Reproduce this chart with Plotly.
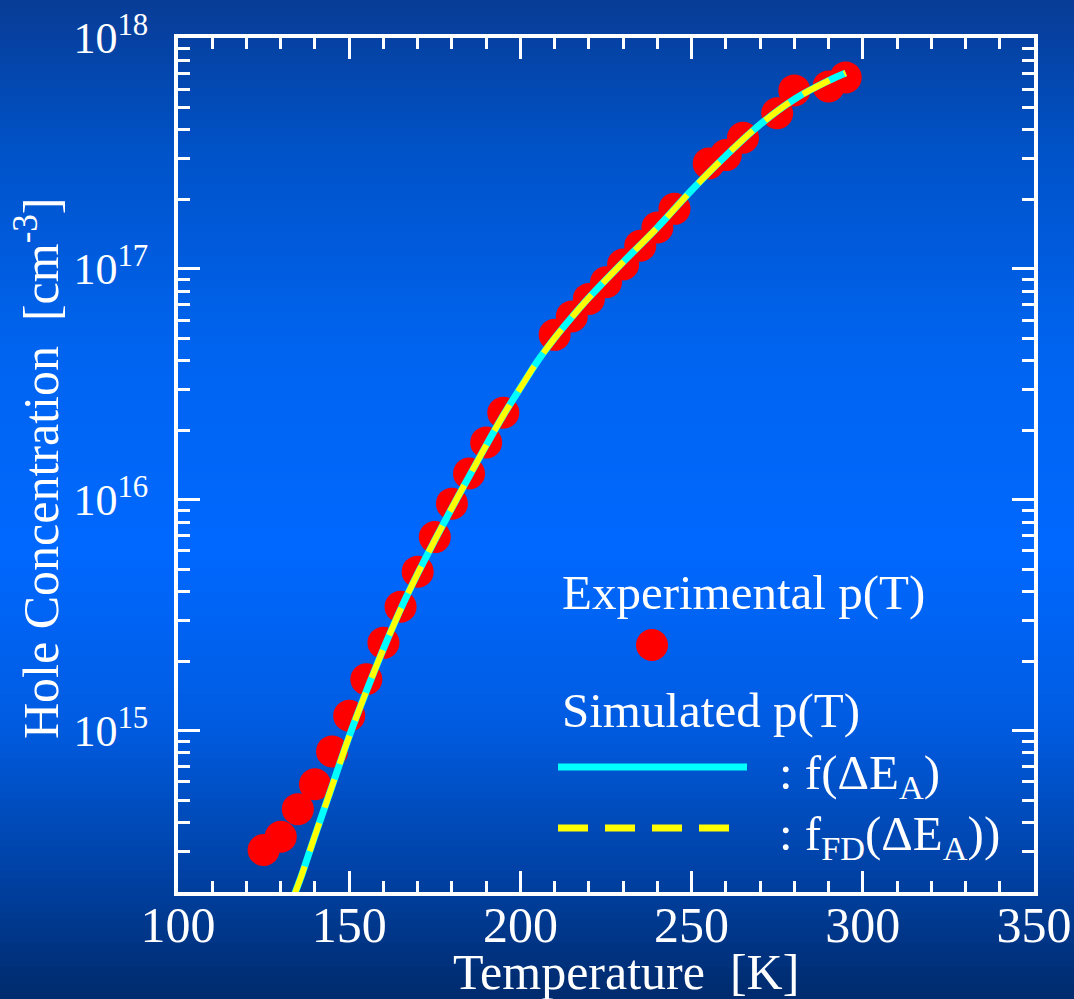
import plotly.graph_objects as go

# ---------------- data ----------------
T_exp = [125, 130, 135, 140, 145, 150, 155, 160, 165, 170, 175, 180, 185, 190, 195,
         210, 215, 220, 225, 230, 235, 240, 245, 255, 260, 265, 275, 280, 290, 295]
p_exp = [3.04e14, 3.47e14, 4.57e14, 5.86e14, 8.13e14, 1.16e15, 1.67e15, 2.40e15,
         3.44e15, 4.88e15, 6.89e15, 9.62e15, 1.30e16, 1.77e16, 2.38e16,
         5.18e16, 6.22e16, 7.41e16, 8.75e16, 1.045e17, 1.26e17, 1.51e17, 1.82e17,
         2.86e17, 3.11e17, 3.70e17, 4.72e17, 5.93e17, 6.17e17, 6.75e17]

T_sim = [134, 136, 140, 145, 150, 155, 160, 165, 170, 175, 180, 185, 190, 195,
         200, 205, 210, 215, 220, 230, 240, 250, 260, 270, 280, 290, 295]
p_sim_f = [1.95e14, 2.34e14, 3.51e14, 5.75e14, 9.44e14, 1.48e15, 2.26e15, 3.35e15,
           4.79e15, 6.68e15, 9.23e15, 1.26e16, 1.72e16, 2.32e16, 3.05e16, 3.98e16,
           5.01e16, 6.17e16, 7.50e16, 1.07e17, 1.51e17, 2.19e17, 3.09e17, 4.22e17,
           5.43e17, 6.53e17, 7.05e17]
p_sim_fd = [1.95e14, 2.34e14, 3.51e14, 5.75e14, 9.44e14, 1.48e15, 2.26e15, 3.35e15,
            4.79e15, 6.68e15, 9.23e15, 1.26e16, 1.72e16, 2.32e16, 3.05e16, 3.98e16,
            5.01e16, 6.17e16, 7.50e16, 1.07e17, 1.51e17, 2.19e17, 3.09e17, 4.22e17,
            5.43e17, 6.53e17, 7.05e17]

x_ticks = [100, 150, 200, 250, 300, 350]
y_ticks = [1e15, 1e16, 1e17, 1e18]
y_ticktext = ["10<sup>15</sup>", "10<sup>16</sup>", "10<sup>17</sup>", "10<sup>18</sup>"]
y_minor = [m * 10 ** e for e in range(14, 18) for m in range(2, 10)]

legend_exp_title = "Experimental p(T)"
legend_sim_title = "Simulated p(T)"
legend_f = ": f(ΔE<sub>A</sub>)"
legend_fd = ": f<sub>FD</sub>(ΔE<sub>A</sub>))"

FONT = "Liberation Serif, Times New Roman, serif"

# ---------------- page geometry ----------------
W, H = 1074, 999
L, R, T, B = 178, 40, 38, 107
pw, ph = W - L - R, H - T - B


def px(x):  # pixel -> paper x
    return (x - L) / pw


def py(y):  # pixel -> paper y
    return (H - B - y) / ph


fig = go.Figure()

fig.add_trace(go.Scatter(
    x=T_exp, y=p_exp, mode="markers",
    marker=dict(color="#ff0000", size=32, line=dict(width=0)),
    name=legend_exp_title, showlegend=False,
))
fig.add_trace(go.Scatter(
    x=T_sim, y=p_sim_f, mode="lines", line=dict(color="#00ffff", width=7, shape="spline"),
    name=legend_f, showlegend=False,
))
fig.add_trace(go.Scatter(
    x=T_sim, y=p_sim_fd, mode="lines",
    line=dict(color="#ffff00", width=6, dash="30px,16px", shape="spline"),
    name=legend_fd, showlegend=False,
))

# ---------------- vertical gradient background ----------------
stops = [(0.0, (8, 60, 150)), (0.15, (0, 82, 200)), (0.35, (0, 100, 240)),
         (0.55, (0, 104, 255)), (0.72, (0, 92, 226)), (0.87, (0, 66, 166)),
         (1.0, (0, 42, 108))]


def col(f):
    for (f0, c0), (f1, c1) in zip(stops[:-1], stops[1:]):
        if f0 <= f <= f1:
            t = (f - f0) / (f1 - f0)
            return "rgb(%d,%d,%d)" % tuple(round(a + (b - a) * t) for a, b in zip(c0, c1))
    return "rgb(%d,%d,%d)" % stops[-1][1]


nb = 125
shapes = []
for i in range(nb):
    y0p = H * i / nb
    y1p = H * (i + 1) / nb + 1
    shapes.append(dict(
        type="rect", xref="paper", yref="paper", layer="below",
        x0=px(0), x1=px(W), y0=py(y1p), y1=py(y0p),
        fillcolor=col((i + 0.5) / nb), line=dict(width=0),
    ))

# ---------------- custom legend keys ----------------
shapes.append(dict(type="circle", xref="paper", yref="paper",
                   x0=px(636), x1=px(668), y0=py(661), y1=py(629),
                   fillcolor="#ff0000", line=dict(width=0)))
shapes.append(dict(type="line", xref="paper", yref="paper",
                   x0=px(558), x1=px(747), y0=py(767), y1=py(767),
                   line=dict(color="#00ffff", width=7)))
shapes.append(dict(type="line", xref="paper", yref="paper",
                   x0=px(558), x1=px(729), y0=py(828), y1=py(828),
                   line=dict(color="#ffff00", width=7, dash="30px,17px")))

LEG = 49
annotations = [
    dict(text=legend_exp_title, x=px(560), y=py(592), xanchor="left", yanchor="middle"),
    dict(text=legend_sim_title, x=px(560), y=py(710), xanchor="left", yanchor="middle"),
    dict(text=legend_f, x=px(777), y=py(775), xanchor="left", yanchor="middle"),
    dict(text=legend_fd, x=px(777), y=py(836), xanchor="left", yanchor="middle"),
]
for a in annotations:
    a.update(xref="paper", yref="paper", showarrow=False,
             font=dict(family=FONT, size=LEG, color="white"))

# axis titles
annotations.append(dict(text="Temperature  [K]", x=px(626), y=py(972), xref="paper", yref="paper",
                        xanchor="center", yanchor="middle", showarrow=False,
                        font=dict(family=FONT, size=50, color="white")))
annotations.append(dict(text="Hole Concentration  [cm<sup>-3</sup>]", x=px(37), y=py(468),
                        xref="paper", yref="paper", textangle=-90,
                        xanchor="center", yanchor="middle", showarrow=False,
                        font=dict(family=FONT, size=50, color="white")))

axis_common = dict(
    showline=True, linecolor="white", linewidth=4, mirror="allticks",
    ticks="inside", tickcolor="white", tickwidth=3,
    showgrid=False, zeroline=False, automargin=False,
)

fig.update_layout(
    width=W, height=H,
    margin=dict(l=L, r=R, t=T, b=B, autoexpand=False),
    paper_bgcolor="#0050c8", plot_bgcolor="rgba(0,0,0,0)",
    font=dict(family=FONT, color="white", size=48),
    shapes=shapes, annotations=annotations,
    showlegend=False,
    xaxis=dict(
        **axis_common, range=[100, 350], tickvals=x_ticks, ticklen=21,
        tickfont=dict(size=50), ticklabelstandoff=-14,
        minor=dict(ticks="inside", dtick=10, ticklen=11, tickwidth=3, tickcolor="white", showgrid=False),
    ),
    yaxis=dict(
        **axis_common, type="log", range=[14.301, 18.0],
        tickvals=y_ticks, ticktext=y_ticktext, ticklen=22,
        tickfont=dict(size=44), ticklabelstandoff=17,
        minor=dict(ticks="inside", tickvals=y_minor, ticklen=12, tickwidth=3, tickcolor="white", showgrid=False),
    ),
)

fig.write_html("out.html")
